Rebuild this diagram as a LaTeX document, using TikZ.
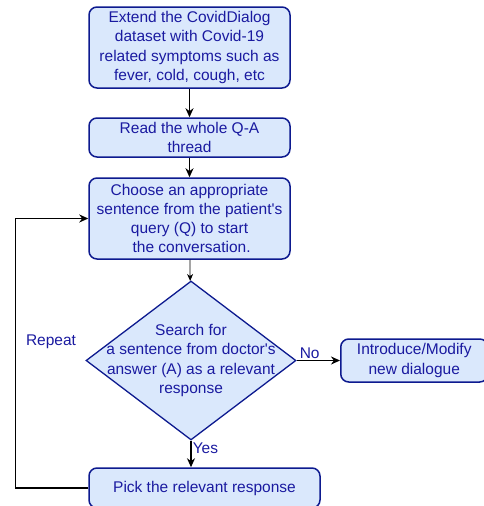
\documentclass[tikz,border=0pt]{standalone}
\usepackage{fontspec}
\setmainfont{Liberation Sans}
\usetikzlibrary{arrows.meta,shapes.geometric}
\definecolor{boxfill}{HTML}{DAE8FC}
\definecolor{boxline}{HTML}{0D1A8F}
\definecolor{boxtext}{HTML}{1A1AA0}
\begin{document}
\begin{tikzpicture}[x=1pt,y=-1pt,>={Stealth[length=9pt,width=8pt]},
 proc/.style={draw=boxline,fill=boxfill,line width=1.5pt,rounded corners=8pt,text=boxtext,
  align=center,inner sep=2pt,font=\fontsize{15.5}{19.3}\selectfont},
 decision/.style={draw=boxline,fill=boxfill,line width=1.3pt,diamond,inner sep=0pt,
  minimum width=210pt,minimum height=159pt},
 tag/.style={text=boxtext,font=\fontsize{15.5}{19.3}\selectfont,align=center,inner sep=1pt},
 link/.style={->,line width=1.5pt}]
\useasboundingbox(0,0)rectangle(484,506);
\node[proc,minimum width=201pt,minimum height=81pt](extend)at(189.5,47.5)
 {Extend the CovidDialog\\dataset with Covid-19\\related symptoms such as\\fever, cold, cough, etc};
\node[proc,minimum width=201pt,minimum height=39pt](read)at(189.5,137.5)
 {Read the whole Q-A\\thread};
\node[proc,minimum width=201pt,minimum height=81pt](choose)at(189.5,218.5)
 {Choose an appropriate\\sentence from the patient\textquotesingle s\\query (Q) to start\\\ the conversation.};
\node[decision](search)at(191,360.5){};
\node[tag](searchtext)at(search){Search for\\a sentence from doctor\textquotesingle s\\answer (A) as a relevant\\response};
\node[proc,minimum width=147pt,minimum height=43pt,anchor=west](modify)at(340,360.5)
 {Introduce/Modify\\new dialogue};
\node[proc,minimum width=231pt,minimum height=40pt](pick)at(204.5,488)
 {Pick the relevant response};
\draw[link](extend)--(read);
\draw[link](read)--(choose);
\draw[->,line width=0.8pt,>={Stealth[length=7pt,width=6pt]}](choose)--(search);
\draw[link](search.east)--node[tag,above,pos=0.3]{No}(modify.west);
\draw[link](search.south)--node[tag,right,pos=0.3]{Yes}(search.south|-pick.north);
\draw[link](pick.west)--++(-73,0)|-(choose.west);
\node[tag](repeat)at(51,342){Repeat};
\end{tikzpicture}
\end{document}
